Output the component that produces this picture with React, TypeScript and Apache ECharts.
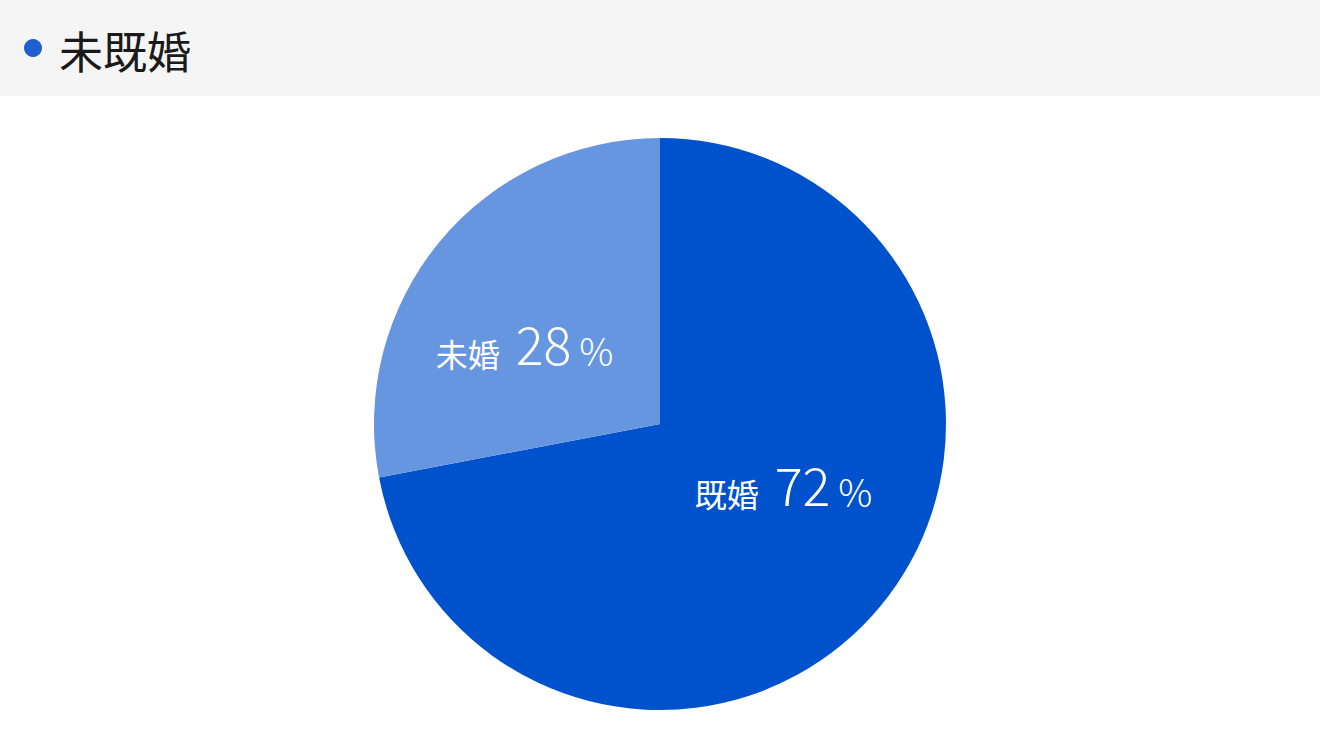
import { useRef, useEffect } from "react";
import * as echarts from "echarts";
import type { EChartsOption } from "echarts";

const title = "未既婚";
const categories = ["既婚", "未婚"];
const values = [72, 28];
const colors = ["#0052CC", "#6596DF"];

const FONT = '"Noto Sans CJK JP", "Noto Sans", sans-serif';

// nudges so the inside labels sit where the original puts them
const labelShift = [
  [11, -36],
  [-23, 10],
];

export default function App() {
  const chartRef = useRef<HTMLDivElement>(null);

  useEffect(() => {
    if (!chartRef.current) return;
    const chart = echarts.init(chartRef.current, undefined, { renderer: "svg" });

    const option: EChartsOption = {
      animation: false,
      backgroundColor: "#ffffff",
      graphic: [
        { type: "rect", left: 0, top: 0, shape: { width: 1320, height: 96 }, style: { fill: "#f5f5f5" }, silent: true },
        { type: "circle", shape: { cx: 33, cy: 48, r: 9 }, style: { fill: "#1f5fd0" }, silent: true },
        {
          type: "text",
          x: 59,
          y: 50,
          style: {
            text: title,
            fontSize: 44,
            fontFamily: FONT,
            fill: "#1a1a1a",
            verticalAlign: "middle",
          },
          silent: true,
        },
      ],
      series: [
        {
          type: "pie",
          center: [660, 424],
          radius: 286,
          startAngle: 90,
          clockwise: true,
          silent: true,
          label: {
            show: true,
            position: "inside",
            formatter: (p: any) => `{n|${p.name}}{v|${p.value}}{p|%}`,
            rich: {
              n: { fontSize: 32, fontFamily: FONT, color: "#fff", verticalAlign: "bottom", lineHeight: 56, padding: [0, 16, 0, 0] },
              v: { fontSize: 52, fontFamily: FONT, fontWeight: 300, color: "#fff", verticalAlign: "bottom", lineHeight: 56 },
              p: { fontSize: 38, fontFamily: FONT, fontWeight: 300, color: "#fff", verticalAlign: "bottom", lineHeight: 56, padding: [0, 0, 0, 8] },
            },
          },
          labelLayout: (p: any) => ({ dx: labelShift[p.dataIndex][0], dy: labelShift[p.dataIndex][1] }),
          labelLine: { show: false },
          itemStyle: { borderWidth: 0 },
          data: categories.map((name, i) => ({
            name,
            value: values[i],
            itemStyle: { color: colors[i] },
          })),
        },
      ],
    };

    chart.setOption(option);
    return () => chart.dispose();
  }, []);

  return (
    <div
      ref={chartRef}
      style={{ position: "fixed", left: 0, top: 0, width: 1320, height: 752 }}
    />
  );
}
